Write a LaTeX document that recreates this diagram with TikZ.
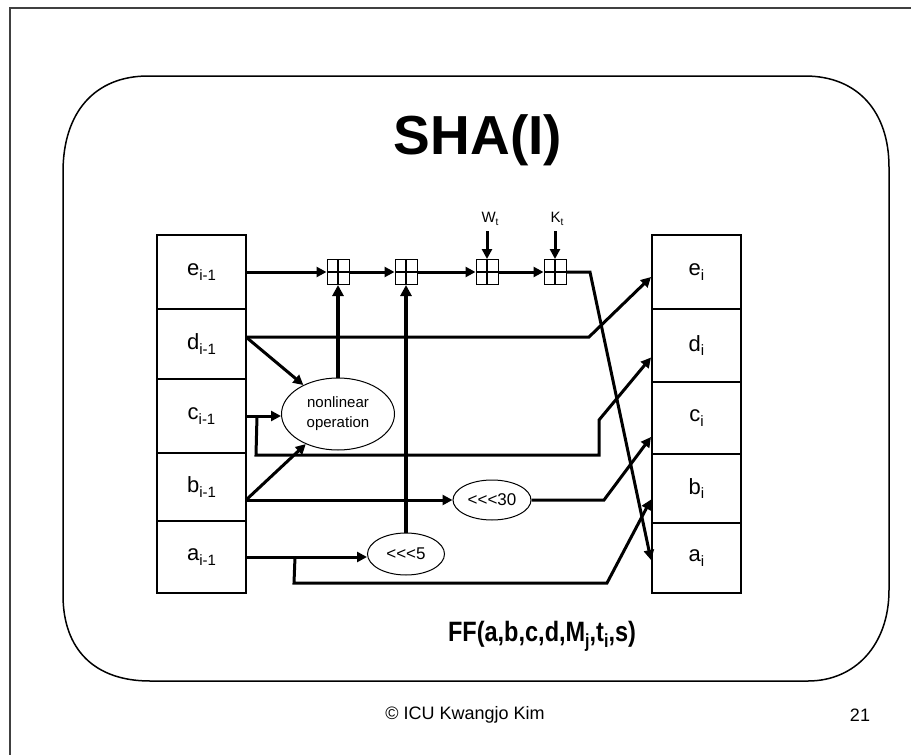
\documentclass[tikz,border=0pt]{standalone}
\usepackage{fontspec}
\setmainfont{Liberation Sans}
\usetikzlibrary{arrows.meta,shapes.geometric}

\newcommand{\lowidx}[1]{\raisebox{-0.4ex}{\scalebox{0.68}{#1}}}

\tikzset{
  reg/.style={draw, line width=2pt, minimum width=89pt, inner sep=0pt, font=\fontsize{22}{24}\selectfont},
  adder/.style={draw, line width=1pt, minimum width=22pt, minimum height=25pt, inner sep=0pt,
    path picture={
      \draw[line width=2.5pt] (path picture bounding box.north) -- (path picture bounding box.south);
      \draw[line width=1.5pt] (path picture bounding box.west) -- (path picture bounding box.east);}},
  op/.style={draw, ellipse, line width=1pt, inner sep=0pt, align=center},
  flow/.style={line width=3pt, -{Triangle[length=10pt,width=10pt]}},
  feed/.style={line width=4pt, -{Triangle[length=11pt,width=11pt]}},
}

\begin{document}
\begin{tikzpicture}[x=1pt,y=-1pt]
\useasboundingbox (0,0) rectangle (911,755);

% slide frame
\draw[line width=1.2pt, black!75] (10,755) -- (10,8) -- (911,8);
\draw[line width=1.5pt] (148,76) -- (805,76) .. controls (858,76) and (889,112) .. (889,167)
  -- (889,590) .. controls (889,645) and (855,681) .. (808,681)
  -- (150,681) .. controls (95,681) and (63,650) .. (63,595)
  -- (63,172) .. controls (63,112) and (95,76) .. (148,76) -- cycle;

\node[font=\fontsize{55}{60}\selectfont\bfseries] (title) at (478,140) {SHA(I)};

% registers before the step
\node[reg, minimum height=74pt] (ep) at (201.5,272) {e\lowidx{i-1}};
\node[reg, minimum height=70pt] (dp) at (201.5,344) {d\lowidx{i-1}};
\node[reg, minimum height=74pt] (cp) at (201.5,416) {c\lowidx{i-1}};
\node[reg, minimum height=68pt] (bp) at (201.5,487) {b\lowidx{i-1}};
\node[reg, minimum height=72pt] (ap) at (201.5,557) {a\lowidx{i-1}};

% registers after the step
\node[reg, minimum height=74pt] (en) at (696.5,272) {e\lowidx{i}};
\node[reg, minimum height=73pt] (dn) at (696.5,345.5) {d\lowidx{i}};
\node[reg, minimum height=72pt] (cn) at (696.5,418) {c\lowidx{i}};
\node[reg, minimum height=69pt] (bn) at (696.5,488.5) {b\lowidx{i}};
\node[reg, minimum height=70pt] (an) at (696.5,558) {a\lowidx{i}};

% adders
\node[adder] (add1) at (338,272) {};
\node[adder] (add2) at (406,272) {};
\node[adder] (add3) at (487,272) {};
\node[adder] (add4) at (555,272) {};

\node[font=\fontsize{15}{16}\selectfont] (wt) at (490,219) {W\lowidx{t}};
\node[font=\fontsize{15}{16}\selectfont] (kt) at (557,219) {K\lowidx{t}};

% operations
\node[op, minimum width=113pt, minimum height=72pt, font=\fontsize{15}{20}\selectfont] (nl) at (338,414) {nonlinear\\operation};
\node[op, minimum width=78pt, minimum height=40pt, font=\fontsize{17}{19}\selectfont] (r30) at (492,500) {<{}<{}<30};
\node[op, minimum width=77pt, minimum height=42pt, font=\fontsize{17}{19}\selectfont] (r5) at (406,554) {<{}<{}<5};

\node[font=\fontsize{28}{30}\selectfont\bfseries, xscale=0.84, transform shape] (ff) at (542,636) {FF(a,b,c,d,M\lowidx{j},t\lowidx{i},s)};
\node[font=\fontsize{18}{20}\selectfont] (copy) at (465,715) {\textcopyright{} ICU Kwangjo Kim};
\node[font=\fontsize{18}{20}\selectfont] (page) at (860,715) {21};

\coordinate (dout) at (246,337);
\coordinate (bout) at (246,500);

% e path
\draw[flow] (ep.east) -- (add1);
\draw[flow] (add1) -- (add2);
\draw[flow] (add2) -- (add3);
\draw[flow] (add3) -- (add4);
\draw[flow] (add4.east) -- (590,272) -- ([yshift=-2pt]an.west);
\draw[flow] ([yshift=-2pt]wt.south -| add3) -- (add3);
\draw[flow] ([yshift=-2pt]kt.south -| add4) -- (add4);

% d path
\draw[flow] (dout) -- (589,337) -- ([yshift=-5pt]en.west);
\draw[flow] (dout) -- (nl);

% c path
\draw[flow] (cp.east) -- (cp.east -| nl.west);
\draw[flow] ([xshift=10pt]cp.east) -- (256,455) -- (599,455) -- (599,420) -- ([yshift=-12pt]dn.west);

% b path
\draw[flow] (bout) -- (nl);
\draw[flow] (bout) -- (bout -| r30.west);
\draw[flow] (r30.east) -- (604,500) -- ([yshift=-19pt]cn.west);

% a path
\draw[flow] (ap.east) -- (ap.east -| r5.west);
\draw[flow] ([xshift=48pt]ap.east) -- (294,583) -- (607,583) -- ([yshift=-11pt]bn.west);

% feeds into the adders
\draw[feed] (nl) -- (add1);
\draw[feed] (r5) -- (add2);
\end{tikzpicture}
\end{document}
